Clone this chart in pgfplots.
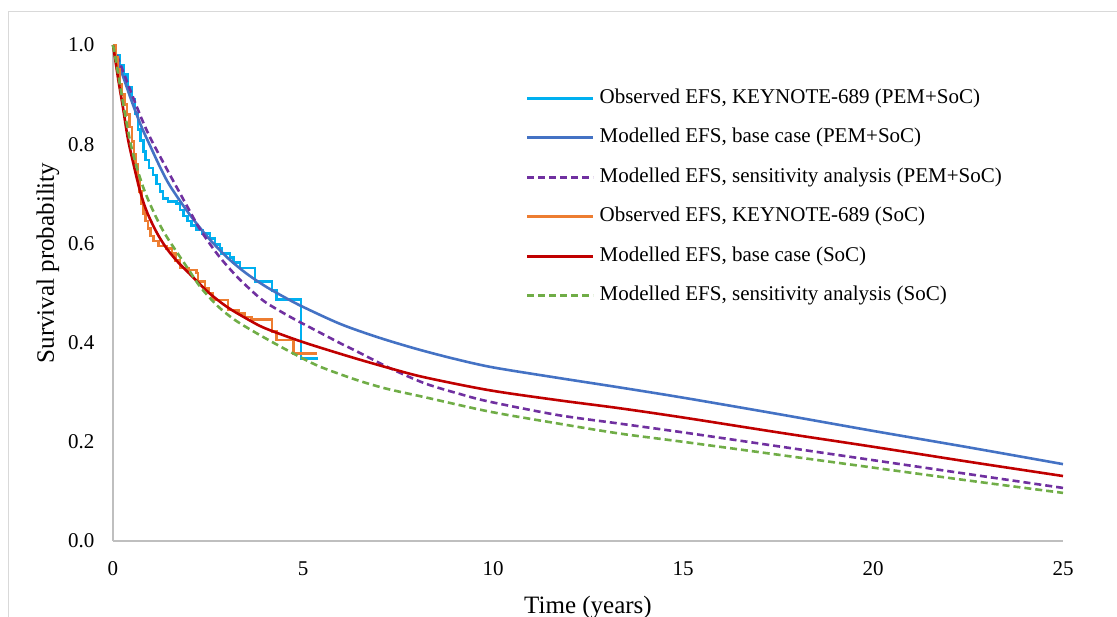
\documentclass[border=0pt]{standalone}
\usepackage{fontspec}
\setmainfont{Liberation Serif}
\usepackage{pgfplots}
\pgfplotsset{compat=1.18}

\definecolor{obsPEM}{HTML}{00B0F0}
\definecolor{basePEM}{HTML}{4472C4}
\definecolor{sensPEM}{HTML}{7030A0}
\definecolor{obsSoC}{HTML}{ED7D31}
\definecolor{baseSoC}{HTML}{C00000}
\definecolor{sensSoC}{HTML}{70AD47}
\definecolor{axisgray}{HTML}{BFBFBF}
\definecolor{framegray}{HTML}{D9D9D9}

\newcommand{\ticksize}{\fontsize{21bp}{25bp}\selectfont}
\newcommand{\labsize}{\fontsize{25bp}{30bp}\selectfont}

% observed Kaplan-Meier steps (value holds from t until the next t)
\pgfplotstableread{
t s
0 1.0
0.08 0.98
0.18 0.96
0.28 0.94
0.38 0.915
0.48 0.89
0.58 0.862
0.66 0.83
0.72 0.808
0.8 0.785
0.86 0.768
0.95 0.752
1.05 0.738
1.15 0.72
1.24 0.705
1.32 0.69
1.45 0.684
1.67 0.68
1.76 0.667
1.86 0.655
1.96 0.645
2.06 0.636
2.2 0.627
2.35 0.62
2.55 0.61
2.68 0.598
2.82 0.59
2.86 0.58
3.08 0.572
3.17 0.562
3.34 0.55
3.74 0.523
4.18 0.505
4.31 0.487
4.95 0.368
5.4 0.368
}\obspem

\pgfplotstableread{
t s
0 1.0
0.06 0.975
0.12 0.95
0.18 0.92
0.24 0.9
0.3 0.88
0.37 0.86
0.44 0.835
0.5 0.805
0.55 0.78
0.6 0.76
0.65 0.73
0.7 0.705
0.75 0.68
0.8 0.66
0.86 0.645
0.92 0.63
0.98 0.615
1.06 0.605
1.2 0.595
1.41 0.59
1.55 0.58
1.65 0.565
1.76 0.55
1.98 0.546
2.2 0.54
2.24 0.523
2.42 0.51
2.52 0.5
2.62 0.486
3.03 0.466
3.3 0.459
3.47 0.452
3.65 0.446
4.18 0.422
4.31 0.405
4.75 0.378
5.36 0.378
}\obssoc

% modelled curves
\pgfplotstableread{
t s
0 1.0
0.1 0.975
0.25 0.94
0.5 0.885
0.75 0.835
1 0.793
1.25 0.752
1.5 0.716
2 0.66
2.5 0.612
3 0.572
3.5 0.54
4 0.514
4.5 0.492
5 0.472
6 0.437
7 0.41
8 0.387
9 0.367
10 0.35
11.7 0.329
13.3 0.31
15 0.289
17.5 0.256
20 0.222
22.5 0.189
25 0.155
}\basepem

\pgfplotstableread{
t s
0 1.0
0.1 0.98
0.25 0.95
0.5 0.9
0.75 0.852
1 0.81
1.5 0.738
2 0.668
2.3 0.627
2.75 0.578
3.2 0.538
3.6 0.508
4 0.482
4.66 0.452
5.3 0.426
6 0.398
6.4 0.383
7.3 0.348
8.2 0.318
9.1 0.297
9.9 0.281
11.7 0.254
13.3 0.237
15 0.219
17.5 0.191
20 0.163
22.5 0.135
25 0.107
}\senspem

\pgfplotstableread{
t s
0 1.0
0.05 0.975
0.15 0.925
0.26 0.875
0.39 0.812
0.53 0.763
0.71 0.706
0.89 0.664
1.15 0.622
1.41 0.59
1.7 0.563
2 0.54
2.5 0.502
3 0.472
3.5 0.449
4 0.429
5 0.401
6.3 0.37
7.3 0.348
8.2 0.33
9.9 0.304
11.7 0.284
13.3 0.268
15 0.249
17.5 0.219
20 0.19
22.5 0.16
25 0.131
}\basesoc

\pgfplotstableread{
t s
0 1.0
0.05 0.98
0.15 0.935
0.26 0.885
0.44 0.81
0.6 0.76
0.8 0.712
1 0.675
1.25 0.635
1.5 0.603
2 0.546
2.3 0.512
2.75 0.474
3.2 0.446
3.8 0.418
4.6 0.384
5.4 0.353
6.4 0.325
7.2 0.307
8.2 0.29
9.9 0.261
11.7 0.237
13.3 0.217
15 0.2
17.5 0.174
20 0.148
22.5 0.122
25 0.097
}\senssoc

\begin{document}
\begin{tikzpicture}
\path[use as bounding box] (-113bp,-76bp) rectangle (1004bp,541bp);
\draw[framegray, line width=1.5bp] (-104.5bp,-80bp) -- (-104.5bp,529.5bp) -- (1010bp,529.5bp);
\begin{axis}[
    at={(0,0)}, anchor=south west,
    scale only axis, width=950bp, height=496bp,
    xmin=0, xmax=25, ymin=0, ymax=1,
    clip=false,
    axis x line*=bottom, axis y line*=left,
    axis line style={axisgray, line width=1.5bp, -},
    major tick length=0pt,
    xtick={0,5,10,15,20,25},
    ytick={0,0.2,0.4,0.6,0.8,1.0},
    /pgf/number format/assume math mode=true,
    yticklabel style={/pgf/number format/fixed, /pgf/number format/fixed zerofill,
        /pgf/number format/precision=1, font=\ticksize, xshift=-15bp},
    xticklabel style={font=\ticksize, yshift=-17bp},
    xlabel={Time (years)},
    ylabel={Survival probability},
    xlabel style={font=\labsize, at={(axis description cs:0.5,0)}, anchor=base, yshift=-72bp},
    ylabel style={font=\labsize, at={(axis description cs:0,0.5605)}, anchor=center, yshift=65bp},
    no markers,
    every axis plot/.append style={line width=2.6bp},
    legend style={draw=none, fill=none, at={(axis cs:10.87,0.9127)}, anchor=north west,
        inner sep=0pt, outer sep=0pt, row sep=19.5bp, column sep=5bp, font=\ticksize,
        nodes={inner sep=0pt, text height=15bp, text depth=5bp}},
    legend cell align=left,
    legend image code/.code={\draw[#1] (0bp,0bp) -- (66bp,0bp);},
]
\addplot[obsPEM, const plot] table[x=t, y=s] {\obspem};
\addlegendentry{Observed EFS, KEYNOTE-689 (PEM+SoC)}
\addplot[basePEM, smooth] table[x=t, y=s] {\basepem};
\addlegendentry{Modelled EFS, base case (PEM+SoC)}
\addplot[sensPEM, smooth, dash pattern=on 7bp off 4bp] table[x=t, y=s] {\senspem};
\addlegendentry{Modelled EFS, sensitivity analysis (PEM+SoC)}
\addplot[obsSoC, const plot] table[x=t, y=s] {\obssoc};
\addlegendentry{Observed EFS, KEYNOTE-689 (SoC)}
\addplot[baseSoC, smooth] table[x=t, y=s] {\basesoc};
\addlegendentry{Modelled EFS, base case (SoC)}
\addplot[sensSoC, smooth, dash pattern=on 7bp off 4bp] table[x=t, y=s] {\senssoc};
\addlegendentry{Modelled EFS, sensitivity analysis (SoC)}
\end{axis}
\end{tikzpicture}
\end{document}
